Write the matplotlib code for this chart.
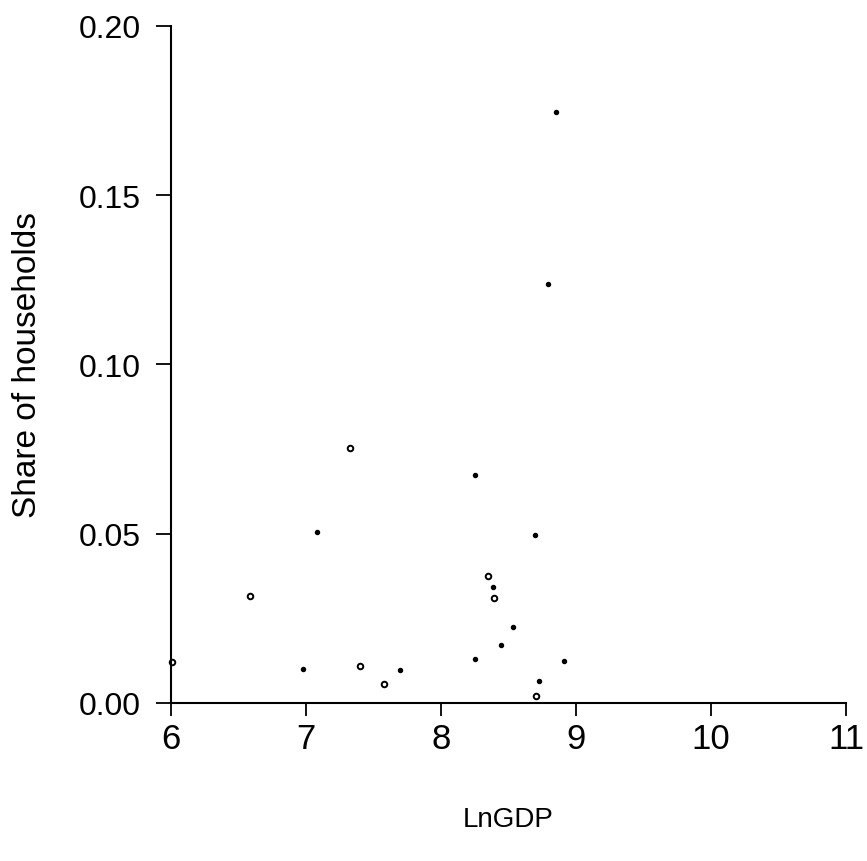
import matplotlib.pyplot as plt
from matplotlib.ticker import FormatStrFormatter

plt.rcParams['font.family'] = ['Liberation Sans', 'DejaVu Sans']

# open circles
open_x = [6.005, 6.583, 7.324, 7.398, 7.578, 8.346, 8.390, 8.704]
open_y = [0.0122, 0.0317, 0.0754, 0.0110, 0.0057, 0.0376, 0.0311, 0.0022]

# filled dots
fill_x = [6.978, 7.081, 7.696, 8.252, 8.250, 8.383, 8.442, 8.533, 8.696,
          8.724, 8.790, 8.852, 8.909]
fill_y = [0.0101, 0.0506, 0.0097, 0.0131, 0.0672, 0.0344, 0.0172, 0.0225,
          0.0497, 0.0064, 0.1236, 0.1746, 0.0125]

xticks = [6, 7, 8, 9, 10, 11]
yticks = [0.00, 0.05, 0.10, 0.15, 0.20]

fig = plt.figure(figsize=(8.67, 8.62), dpi=100)
ax = fig.add_axes([0.1972, 0.1833, 0.7786, 0.7857])

ax.plot(open_x, open_y, 'o', ms=4.0, mfc='white', mec='black', mew=1.4,
        clip_on=False)
ax.plot(fill_x, fill_y, 'o', ms=2.9, color='black', clip_on=False)

ax.set_xlim(6, 11)
ax.set_ylim(0, 0.20)
ax.set_xticks(xticks)
ax.set_yticks(yticks)
ax.yaxis.set_major_formatter(FormatStrFormatter('%.2f'))

for s in ['top', 'right']:
    ax.spines[s].set_visible(False)
for s in ['left', 'bottom']:
    ax.spines[s].set_linewidth(1.5)

ax.tick_params(axis='y', length=11, width=1.3, pad=11, labelsize=23)
ax.tick_params(axis='x', length=9, width=1.3, pad=5, labelsize=25)

ax.set_ylabel('Share of households', fontsize=24)
ax.yaxis.set_label_coords(-0.19, 0.5)
ax.set_xlabel('LnGDP', fontsize=20, va='center')
ax.xaxis.set_label_coords(0.5, -0.171)

fig.savefig('out.png', dpi=100)
